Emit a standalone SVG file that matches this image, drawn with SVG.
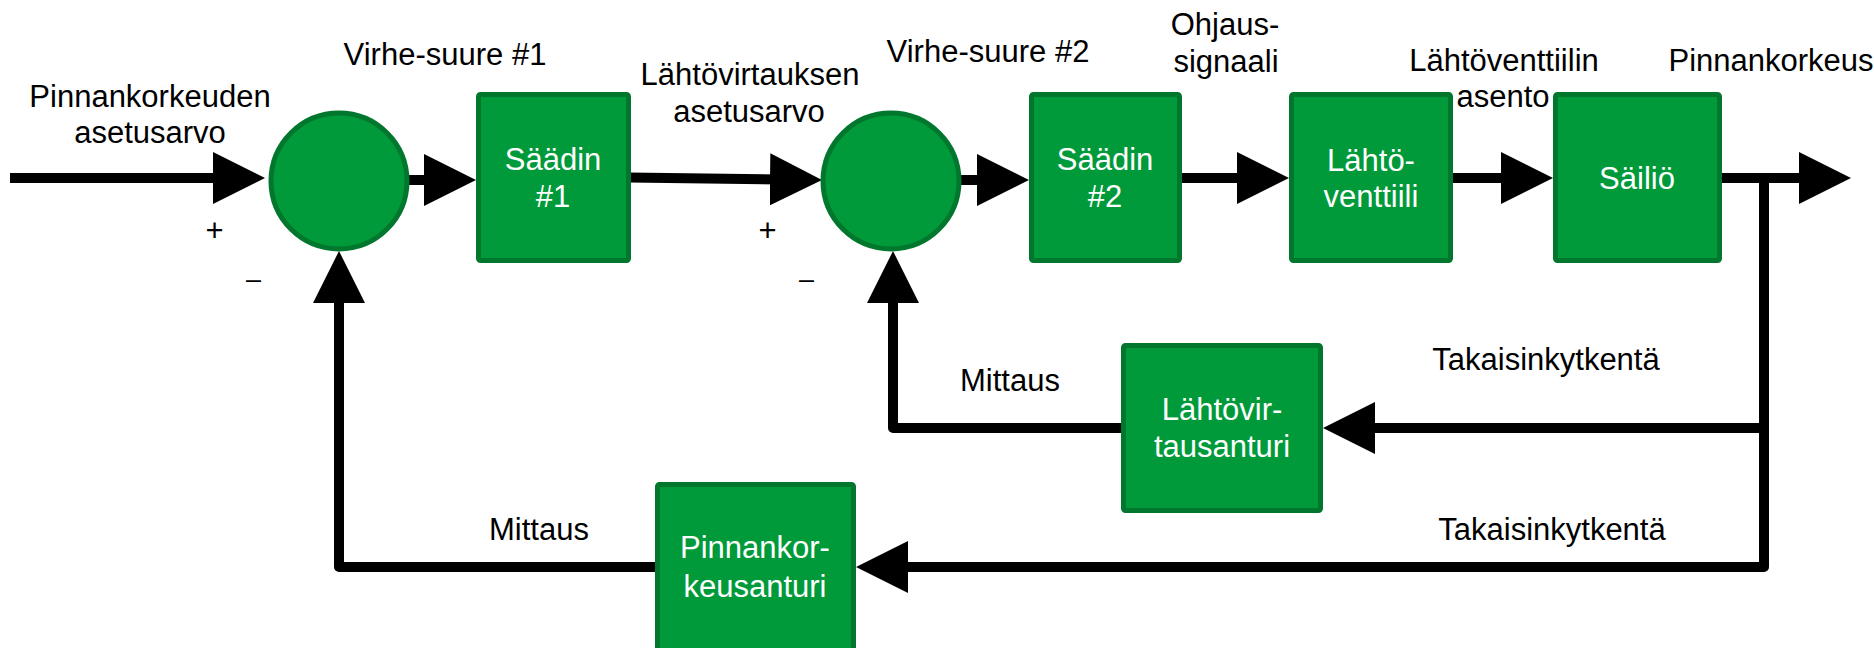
<svg xmlns="http://www.w3.org/2000/svg" width="1874" height="648" viewBox="0 0 1874 648">
<style>
.blk{fill:#009a3a;stroke:#00772d;stroke-width:5}
.lbl{font-family:"Liberation Sans",Arial,sans-serif;font-size:31px;fill:#000;text-anchor:middle}
.in{font-family:"Liberation Sans",Arial,sans-serif;font-size:31px;fill:#fff;text-anchor:middle}
.pls{font-family:"Liberation Sans",Arial,sans-serif;font-size:31px;fill:#000;text-anchor:middle}
.mns{font-family:"Liberation Sans",Arial,sans-serif;font-size:27px;fill:#000;text-anchor:middle}
.ln{fill:none;stroke:#000;stroke-width:10;stroke-linejoin:round;marker-end:url(#ah)}
</style>
<defs>
<marker id="ah" markerUnits="userSpaceOnUse" markerWidth="52" markerHeight="52" viewBox="0 0 52 52" refX="12" refY="26" orient="auto">
<path d="M0,0 L52,26 L0,52 Z" fill="#000"/>
</marker>
</defs>
<rect width="1874" height="648" fill="#fff"/>
<g id="connectors">
<path class="ln" d="M10,178 H225"/>
<path class="ln" d="M406,180 H436"/>
<path class="ln" d="M629,177.5 L782,179.5"/>
<path class="ln" d="M959,180 H989"/>
<path class="ln" d="M1180,178 H1249"/>
<path class="ln" d="M1451,178 H1513"/>
<path class="ln" d="M1720,178 H1811"/>
<path class="ln" d="M1764,178 V567 H896"/>
<path class="ln" d="M1764,428 H1363"/>
<path class="ln" d="M1123,428 H893 V291"/>
<path class="ln" d="M657,567 H339 V291"/>
</g>
<g id="sum1"><circle class="blk" cx="339" cy="181" r="68"/></g>
<g id="sum2"><circle class="blk" cx="891" cy="181" r="68"/></g>
<g id="saadin1"><rect class="blk" x="478.5" y="94.5" width="150" height="166" rx="2"/>
<text class="in" x="553" y="170">Säädin</text><text class="in" x="553" y="207">#1</text></g>
<g id="saadin2"><rect class="blk" x="1031.5" y="94.5" width="148" height="166" rx="2"/>
<text class="in" x="1105" y="170">Säädin</text><text class="in" x="1105" y="207">#2</text></g>
<g id="venttiili"><rect class="blk" x="1291.5" y="94.5" width="159" height="166" rx="2"/>
<text class="in" x="1371" y="171">Lähtö-</text><text class="in" x="1371" y="207">venttiili</text></g>
<g id="sailio"><rect class="blk" x="1555.5" y="94.5" width="164" height="166" rx="2"/>
<text class="in" x="1637" y="189">Säiliö</text></g>
<g id="virtausanturi"><rect class="blk" x="1123.5" y="345.5" width="197" height="165" rx="2"/>
<text class="in" x="1222" y="420">Lähtövir-</text><text class="in" x="1222" y="457">tausanturi</text></g>
<g id="pinta-anturi"><rect class="blk" x="657.5" y="484.5" width="196" height="170" rx="2"/>
<text class="in" x="755" y="558">Pinnankor-</text><text class="in" x="755" y="597">keusanturi</text></g>
<g id="labels">
<text class="lbl" x="150" y="107">Pinnankorkeuden</text>
<text class="lbl" x="150" y="143">asetusarvo</text>
<text class="lbl" x="445" y="65">Virhe-suure #1</text>
<text class="lbl" x="750" y="85">Lähtövirtauksen</text>
<text class="lbl" x="749" y="122">asetusarvo</text>
<text class="lbl" x="988" y="62">Virhe-suure #2</text>
<text class="lbl" x="1225" y="35">Ohjaus-</text>
<text class="lbl" x="1226" y="72">signaali</text>
<text class="lbl" x="1504" y="71">Lähtöventtiilin</text>
<text class="lbl" x="1503" y="107">asento</text>
<text class="lbl" x="1771" y="71">Pinnankorkeus</text>
<text class="lbl" x="1010" y="391">Mittaus</text>
<text class="lbl" x="539" y="540">Mittaus</text>
<text class="lbl" x="1546" y="370">Takaisinkytkentä</text>
<text class="lbl" x="1552" y="540">Takaisinkytkentä</text>
<text class="pls" x="214.5" y="241">+</text>
<text class="mns" x="253.5" y="288">–</text>
<text class="pls" x="767.5" y="241">+</text>
<text class="mns" x="806.5" y="288">–</text>
</g>
</svg>
